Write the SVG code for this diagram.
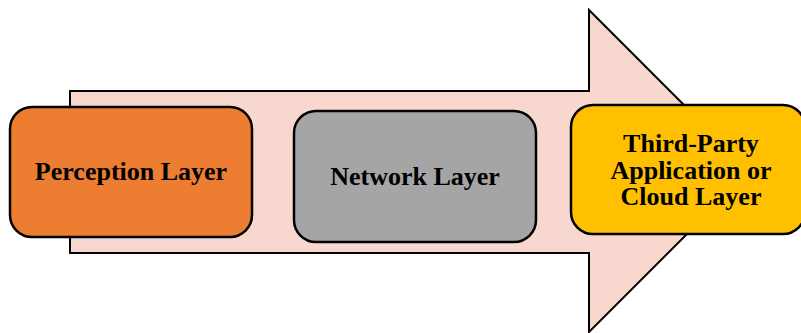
<svg xmlns="http://www.w3.org/2000/svg" width="801" height="333" viewBox="0 0 801 333">
<style>
.box{stroke:#000;stroke-width:2.5}
.t{font-family:"Liberation Serif","Times New Roman",serif;font-weight:bold;font-size:26px;fill:#000;text-anchor:middle}
</style>
<rect width="801" height="333" fill="#fff"/>
<g id="arrow">
<path d="M70,91 H589 V10 L750,171 L589,332 V253 H70 Z" fill="#F8D8CE" stroke="#000" stroke-width="2"/>
</g>
<g id="perception">
<rect class="box" x="10" y="107" width="242" height="130" rx="22" fill="#ED7D31"/>
<text class="t" x="131" y="180">Perception Layer</text>
</g>
<g id="network">
<rect class="box" x="294" y="111" width="242" height="131" rx="22" fill="#A5A5A5"/>
<text class="t" x="415" y="185">Network Layer</text>
</g>
<g id="cloud">
<rect class="box" x="571" y="105" width="234" height="129" rx="22" fill="#FFC000"/>
<text class="t" x="691" y="152">Third-Party</text>
<text class="t" x="691" y="179">Application or</text>
<text class="t" x="691" y="205">Cloud Layer</text>
</g>
</svg>
